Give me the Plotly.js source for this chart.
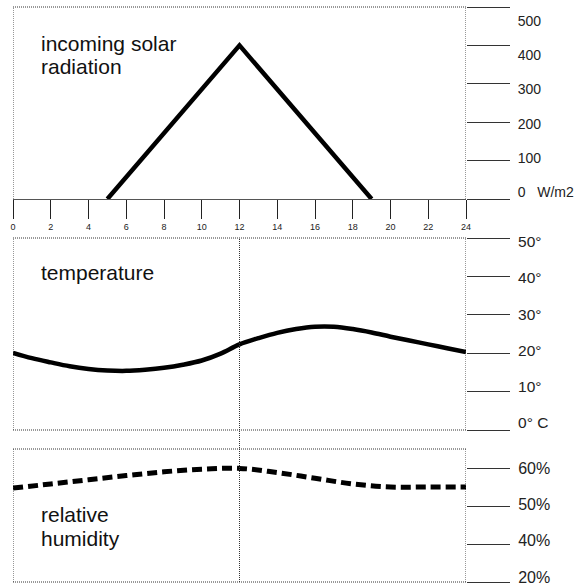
<!DOCTYPE html>
<html>
<head>
<meta charset="utf-8">
<script src="https://cdn.plot.ly/plotly-3.0.1.min.js"></script>
<style>html,body{margin:0;padding:0;background:#fff;}#chart{width:586px;height:587px;}</style>
</head>
<body>
<div id="chart"></div>
<script>
// Data
var hourTicks = [0,2,4,6,8,10,12,14,16,18,20,22,24];

var solarHours = [5, 12, 19];
var solarValues = [0, 400, 0];

var tempHours = [0,1,2,3,4,5,6,7,8,9,10,11,12,13,14,15,16,17,18,19,20,21,22,23,24];
var tempValues = [20.1,18.7,17.6,16.6,15.9,15.5,15.4,15.7,16.2,17.0,18.1,19.9,22.3,23.9,25.3,26.3,26.9,26.9,26.3,25.4,24.3,23.3,22.3,21.3,20.3];

var humHours = [0,2,4,6,8,10,12,14,16,18,20,22,24];
var humValues = [54.7,55.8,56.9,58.0,59.0,59.7,59.9,58.8,57.3,55.8,55.0,55.0,55.0];

var solarTickVals = [0,100,200,300,400,500];
var solarTickText = ['0\u00a0\u00a0\u00a0W/m2','100','200','300','400','500'];
var tempTickVals = [0,10,20,30,40,50];
var tempTickText = ['0\u00b0 C','10\u00b0','20\u00b0','30\u00b0','40\u00b0','50\u00b0'];
var humTickVals = [30,40,50,60];
var humTickText = ['20%','40%','50%','60%'];

var FONT = 'Liberation Sans, Arial, sans-serif';

var traces = [
  {x: solarHours, y: solarValues, xaxis:'x', yaxis:'y', mode:'lines',
   line:{color:'#000', width:4.5}, cliponaxis:false, hoverinfo:'skip'},
  {x: tempHours, y: tempValues, xaxis:'x2', yaxis:'y2', mode:'lines',
   line:{color:'#000', width:4.5, shape:'spline', smoothing:1}, hoverinfo:'skip'},
  {x: humHours, y: humValues, xaxis:'x3', yaxis:'y3', mode:'lines',
   line:{color:'#000', width:5, shape:'spline', smoothing:1, dash:'10px,5px'}, hoverinfo:'skip'}
];

var d1 = [(582-199)/575, 1];
var d2 = [(582-430)/575, (582-238)/575];
var d3 = [0, (582-449)/575];

// tick-line axes (no labels)
function yax(domain, range, tv, anchor){
  return {domain: domain, range: range, side:'right', anchor: anchor,
    tickvals: tv, showticklabels:false, ticks:'outside', ticklen:43, tickwidth:1, tickcolor:'#333',
    showgrid:false, zeroline:false, showline:false, fixedrange:true};
}
// label axes overlaying the tick axes (labels are spaced a little tighter in the original)
function labAx(domain, range, tv, tt, over, anchor, size){
  return {domain: domain, range: range, side:'right', overlaying: over, anchor: anchor,
    tickvals: tv, ticktext: tt, ticks:'outside', ticklen:43, tickcolor:'rgba(0,0,0,0)',
    showgrid:false, zeroline:false, showline:false, fixedrange:true,
    ticklabeloverflow:'allow', ticklabelstandoff:5,
    tickfont:{family:FONT, size:size, color:'#222'}};
}
function hidX(anchor){
  return {domain:[0,1], range:[0,24], anchor:anchor, showgrid:false, zeroline:false,
    showline:false, showticklabels:false, ticks:'', fixedrange:true};
}

var DOT = {color:'#333', width:1, dash:'1px,1px'};
function seg(xref, yref, x0, y0, x1, y1){
  return {type:'line', xref:xref, yref:yref, x0:x0, y0:y0, x1:x1, y1:y1, line: DOT, layer:'above'};
}

var shapes = [
  seg('x','y domain',0,0,0,1), seg('x','y domain',0,1,24,1), seg('x','y domain',24,0,24,1),
  seg('x2','y2 domain',0,0,0,1), seg('x2','y2 domain',0,1,24,1), seg('x2','y2 domain',24,0,24,1), seg('x2','y2 domain',0,0,24,0),
  seg('x3','y3 domain',0,0,0,1), seg('x3','y3 domain',0,1,24,1), seg('x3','y3 domain',24,0,24,1), seg('x3','y3 domain',0,0,24,0),
  seg('x2','paper',12,0,12,d2[1])
];

function label(text, xref, yref, y){
  return {text:text, xref:xref, yref:yref, x:1.4, y:y, xanchor:'left', yanchor:'middle',
    showarrow:false, align:'left', font:{family:FONT, size:21, color:'#111'}};
}

var layout = {
  width:586, height:587,
  margin:{l:13, r:120, t:7, b:5},
  paper_bgcolor:'#fff', plot_bgcolor:'rgba(0,0,0,0)',
  showlegend:false,
  xaxis:{domain:[0,1], range:[0,24], anchor:'y', tickvals:hourTicks, ticks:'outside', ticklen:19,
    tickwidth:1, tickcolor:'#222', showline:true, linecolor:'#555', linewidth:1,
    showgrid:false, zeroline:false, fixedrange:true,
    tickfont:{family:FONT, size:9, color:'#222'}},
  yaxis: yax(d1, [0,500], solarTickVals, 'x'),
  xaxis2: hidX('y2'),
  yaxis2: yax(d2, [0,50], tempTickVals, 'x2'),
  xaxis3: hidX('y3'),
  yaxis3: yax(d3, [30,65], humTickVals, 'x3'),
  yaxis4: labAx(d1, [-19.56, 540.9], solarTickVals, solarTickText, 'y', 'x', 14),
  yaxis5: labAx(d2, [-1.93, 51.02], tempTickVals, tempTickText, 'y2', 'x2', 15.5),
  yaxis6: labAx(d3, [28.62, 65.23], humTickVals, humTickText, 'y3', 'x3', 16),
  shapes: shapes,
  annotations: [
    label('incoming solar','x','y domain',0.810),
    label('radiation','x','y domain',0.690),
    label('temperature','x2','y2 domain',0.820),
    label('relative','x3','y3 domain',0.511),
    label('humidity','x3','y3 domain',0.325)
  ]
};

// empty traces so the label axes are drawn
traces.push({x:[null], y:[null], xaxis:'x', yaxis:'y4', hoverinfo:'skip'});
traces.push({x:[null], y:[null], xaxis:'x2', yaxis:'y5', hoverinfo:'skip'});
traces.push({x:[null], y:[null], xaxis:'x3', yaxis:'y6', hoverinfo:'skip'});

Plotly.newPlot('chart', traces, layout, {displayModeBar:false, staticPlot:true});
</script>
</body>
</html>
